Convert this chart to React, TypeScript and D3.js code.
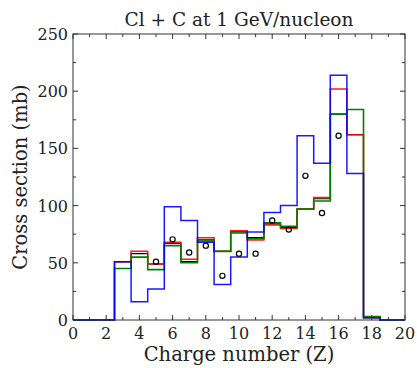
import React from "react";
import * as d3 from "d3";

// charge number bins (centered on integers)
const charges = d3.range(0, 21);
const blackVals = [0, 0, 0, 51, 58, 49, 67, 51, 70, 60, 77, 72, 84, 81, 97, 106, 180, 162, 2, 0, 0];
const redVals = [0, 0, 0, 51, 60, 49, 68, 53, 72, 60, 78, 70, 83, 80, 97, 107, 202, 162, 2, 0, 0];
const greenVals = [0, 0, 0, 45, 55, 44, 65, 50, 69, 60, 76, 71, 85, 82, 97, 104, 180, 184, 3, 0, 0];
const blueVals = [0, 0, 0, 51, 16, 27, 99, 87, 68, 31, 55, 77, 94, 100, 161, 137, 214, 128, 2, 0, 0];

const dataZ = [5, 6, 7, 8, 9, 10, 11, 12, 13, 14, 15, 16];
const dataVals = [51, 70.5, 59, 65, 38.6, 58, 58, 87, 79, 126, 93.5, 161];

const xTicks = [0, 2, 4, 6, 8, 10, 12, 14, 16, 18, 20];
const yTicks = [0, 50, 100, 150, 200, 250];

const W = 417;
const H = 368;
const m = { left: 73, right: 12, top: 34, bottom: 48 };
const font = "'DejaVu Serif', serif";

export default function App() {
  const x = d3.scaleLinear().domain([0, 20]).range([m.left, W - m.right]);
  const y = d3.scaleLinear().domain([0, 250]).range([H - m.bottom, m.top]);

  const stepPath = (vals: number[]) => {
    const pts: [number, number][] = [];
    charges.forEach((z, i) => {
      const lo = Math.max(0, z - 0.5);
      const hi = Math.min(20, z + 0.5);
      pts.push([lo, vals[i]]);
      pts.push([hi, vals[i]]);
    });
    return d3
      .line<[number, number]>()
      .x((d) => x(d[0]))
      .y((d) => y(d[1]))(pts) as string;
  };

  const series = [
    { vals: blackVals, color: "#000000", op: 1, w: 1.1 },
    { vals: redVals, color: "#ff0000", op: 0.9, w: 1.5 },
    { vals: greenVals, color: "#008000", op: 1, w: 1.6 },
    { vals: blueVals, color: "#0000ff", op: 0.9, w: 1.5 },
  ];

  const x0 = m.left;
  const x1 = W - m.right;
  const y0 = H - m.bottom;
  const y1 = m.top;

  const xMinor = d3.range(0, 21);
  const yMinor = d3.range(0, 251, 25);
  const ts = { fontFamily: font };

  return (
    <svg
      width={W}
      height={H}
      style={{ position: "absolute", left: 0, top: 0, background: "#fff" }}
    >
      {series.map((s, i) => (
        <path
          key={i}
          d={stepPath(s.vals)}
          fill="none"
          stroke={s.color}
          strokeWidth={s.w}
          strokeOpacity={s.op}
        />
      ))}
      {dataZ.map((z, i) => (
        <circle
          key={i}
          cx={x(z)}
          cy={y(dataVals[i])}
          r={2.6}
          fill="none"
          stroke="#000"
          strokeWidth={1.2}
        />
      ))}

      {/* ticks */}
      {xMinor.map((t) => {
        const len = t % 2 === 0 ? 5 : 3;
        return (
          <g key={"xt" + t} stroke="#333" strokeWidth={1}>
            <line x1={x(t)} x2={x(t)} y1={y0} y2={y0 - len} />
            <line x1={x(t)} x2={x(t)} y1={y1} y2={y1 + len} />
          </g>
        );
      })}
      {yMinor.map((t) => {
        const len = t % 50 === 0 ? 5 : 3;
        return (
          <g key={"yt" + t} stroke="#333" strokeWidth={1}>
            <line x1={x0} x2={x0 + len} y1={y(t)} y2={y(t)} />
            <line x1={x1} x2={x1 - len} y1={y(t)} y2={y(t)} />
          </g>
        );
      })}
      <rect
        x={x0}
        y={y1}
        width={x1 - x0}
        height={y0 - y1}
        fill="none"
        stroke="#333"
        strokeWidth={1}
      />

      {xTicks.map((t) => (
        <text key={"xl" + t} x={x(t)} y={y0 + 19} textAnchor="middle" fontSize={16} fill="#222" style={ts}>
          {t}
        </text>
      ))}
      {yTicks.map((t) => (
        <text key={"yl" + t} x={x0 - 5} y={y(t) + 6} textAnchor="end" fontSize={16} fill="#222" style={ts}>
          {t}
        </text>
      ))}

      <text x={(x0 + x1) / 2} y={26} textAnchor="middle" fontSize={18.5} fill="#222" style={ts}>
        Cl + C at 1 GeV/nucleon
      </text>
      <text x={(x0 + x1) / 2} y={361} textAnchor="middle" fontSize={19.5} fill="#222" style={ts}>
        Charge number (Z)
      </text>
      <text
        transform={`translate(27,${(y0 + y1) / 2}) rotate(-90)`}
        textAnchor="middle"
        fontSize={19.5}
        fill="#222"
        style={ts}
      >
        Cross section (mb)
      </text>
    </svg>
  );
}
